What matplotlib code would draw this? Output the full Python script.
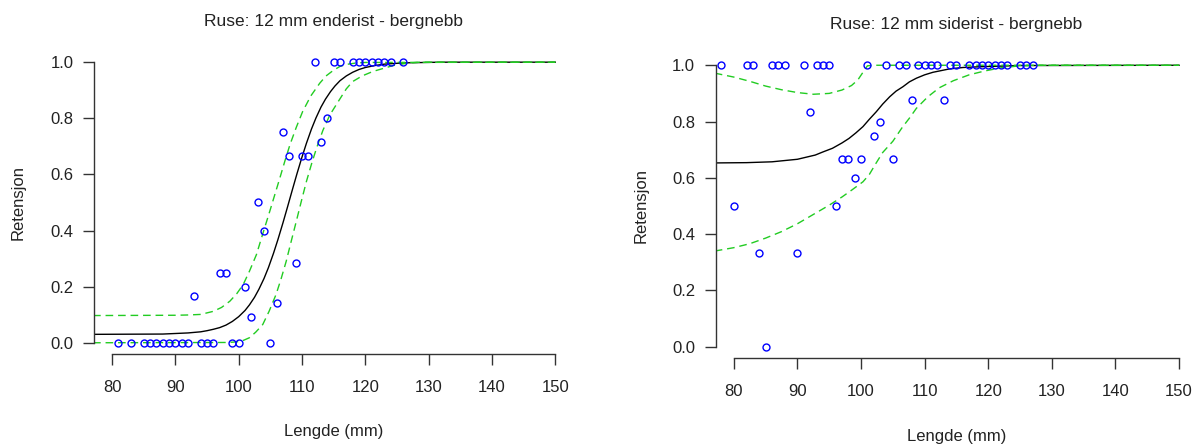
import matplotlib
matplotlib.use("Agg")
import matplotlib.pyplot as plt
from matplotlib.ticker import FormatStrFormatter

plt.rcParams["font.family"] = ["Liberation Sans", "DejaVu Sans"]

# --- Panel 1: enderist ---
end_x = [81, 83, 85, 86, 87, 88, 89, 90, 91, 92, 94, 95, 96, 99, 100, 105,
         93, 97, 98, 101, 102, 103, 104, 106, 107, 108, 109, 110, 111, 113, 114,
         112, 115, 116, 118, 119, 120, 121, 122, 123, 124, 126]
end_y = [0] * 16 + [0.167, 0.25, 0.25, 0.2, 0.091, 0.5, 0.4, 0.143, 0.75, 0.667,
                    0.286, 0.667, 0.667, 0.714, 0.8] + [1.0] * 11

end_fit_x = [77, 88, 92, 94, 95, 96, 97, 98, 99, 100, 101, 101.7, 102.5, 103.2,
             104, 104.7, 105.5, 106.2, 107, 107.7, 108.5, 109.2, 110, 110.7, 111.5,
             112.2, 113, 113.7, 114.5, 115.2, 116, 117, 118, 119, 120, 121.5, 123,
             125, 127, 132, 150]
end_fit_y = [0.030, 0.031, 0.035, 0.039, 0.043, 0.048, 0.054, 0.063, 0.076, 0.093,
             0.115, 0.135, 0.162, 0.191, 0.229, 0.268, 0.319, 0.368, 0.428, 0.483,
             0.547, 0.602, 0.662, 0.711, 0.762, 0.801, 0.840, 0.868, 0.895, 0.915,
             0.934, 0.951, 0.964, 0.974, 0.981, 0.988, 0.993, 0.996, 0.998, 1.0, 1.0]
end_hi_x = [77, 90, 92, 94, 96, 97.3, 98.6, 99.7, 100.7, 101.7, 102.8, 103.8, 104.9,
            106.5, 107.3, 108.1, 109.1, 110.1, 111.4, 112.8, 113.8, 114.9, 116, 117,
            118.5, 120, 150]
end_hi_y = [0.097, 0.098, 0.099, 0.101, 0.112, 0.126, 0.148, 0.175, 0.207, 0.255,
            0.314, 0.388, 0.468, 0.587, 0.648, 0.706, 0.768, 0.824, 0.880, 0.925,
            0.951, 0.970, 0.985, 0.992, 0.997, 0.999, 1.0]
end_lo_x = [77, 98, 99, 100, 100.8, 101.7, 102.7, 103.8, 104.8, 105.9, 106.7, 107.5,
            108.3, 109.1, 109.9, 110.7, 111.5, 112.3, 113.3, 114.4, 115.9, 117, 118,
            119.5, 121.2, 124.4, 126.5, 128.6, 150]
end_lo_y = [0.0, 0.001, 0.002, 0.004, 0.009, 0.018, 0.038, 0.065, 0.112, 0.172,
            0.228, 0.29, 0.362, 0.433, 0.505, 0.575, 0.637, 0.694, 0.757, 0.812,
            0.866, 0.905, 0.931, 0.951, 0.967, 0.988, 0.996, 1.0, 1.0]

# --- Panel 2: siderist ---
side_x = [78, 82, 83, 86, 87, 88, 91, 93, 94, 95, 101, 104, 106, 107, 109, 110,
          111, 112, 114, 115, 117, 118, 119, 120, 121, 122, 123, 125, 126, 127,
          92, 80, 84, 90, 85, 96, 97, 98, 100, 99, 102, 103, 105, 108, 113]
side_y = [1.0] * 30 + [0.833, 0.5, 0.333, 0.333, 0.0, 0.5, 0.667, 0.667, 0.667,
                       0.6, 0.75, 0.8, 0.667, 0.875, 0.875]

side_fit_x = [77, 82, 86, 90, 92.8, 94, 95.5, 97, 98.1, 99.2, 100.3, 101.3, 102.4,
              103.4, 104.5, 105.5, 106.6, 107.6, 108.7, 110, 111.3, 113.9, 116, 119,
              125, 150]
side_fit_y = [0.653, 0.654, 0.657, 0.666, 0.681, 0.692, 0.705, 0.724, 0.740, 0.760,
              0.782, 0.808, 0.835, 0.862, 0.888, 0.908, 0.924, 0.941, 0.954, 0.966,
              0.975, 0.987, 0.992, 0.995, 0.999, 1.0]
side_hi_x = [77, 80, 82.5, 85, 87.5, 90, 92.5, 95, 97, 98.5, 99.5, 100.3, 101, 102, 150]
side_hi_y = [0.972, 0.958, 0.943, 0.926, 0.913, 0.903, 0.897, 0.900, 0.912, 0.928,
             0.948, 0.975, 0.998, 1.0, 1.0]
side_lo_x = [77, 80, 82.5, 85, 87.5, 90, 92.5, 95, 97, 98.5, 100.3, 101.3, 102.3,
             103.4, 105, 106.5, 107.6, 108.7, 110.5, 112.3, 114.5, 117, 119.5, 122,
             125, 128, 150]
side_lo_y = [0.340, 0.352, 0.366, 0.386, 0.409, 0.437, 0.470, 0.503, 0.532, 0.556,
             0.586, 0.612, 0.650, 0.690, 0.730, 0.780, 0.812, 0.847, 0.888, 0.920,
             0.945, 0.966, 0.980, 0.991, 0.998, 1.0, 1.0]

titles = ["Ruse: 12 mm enderist - bergnebb", "Ruse: 12 mm siderist - bergnebb"]
xticks = [80, 90, 100, 110, 120, 130, 140, 150]
yticks = [0.0, 0.2, 0.4, 0.6, 0.8, 1.0]

green = "#22cc22"
txt = "#222222"

fig = plt.figure(figsize=(12, 4.47), dpi=100)
ax1 = fig.add_axes([0.0786, 0.2081, 0.3989, 0.6779])
ax2 = fig.add_axes([0.5967, 0.1991, 0.4007, 0.6801])

panels = [
    (ax1, end_x, end_y, end_fit_x, end_fit_y, end_hi_x, end_hi_y, end_lo_x, end_lo_y),
    (ax2, side_x, side_y, side_fit_x, side_fit_y, side_hi_x, side_hi_y, side_lo_x, side_lo_y),
]
xlab_y = [-0.231, -0.234]
ylab_x = [-0.143, -0.141]

for i, (ax, px, py, fx, fy, hx, hy, lx, ly) in enumerate(panels):
    ax.plot(px, py, "o", mfc="none", mec="blue", ms=5, mew=1.0, zorder=3)
    ax.plot(fx, fy, color="black", lw=1.0, zorder=2)
    ax.plot(hx, hy, color=green, lw=1.0, ls=(0, (5.5, 3.5)), zorder=2)
    ax.plot(lx, ly, color=green, lw=1.0, ls=(0, (5.5, 3.5)), zorder=2)

    ax.set_xlim(77.2, 152.8)
    ax.set_ylim(-0.04, 1.04)
    for s in ["top", "right"]:
        ax.spines[s].set_visible(False)
    ax.spines["left"].set_bounds(0, 1)
    ax.spines["bottom"].set_bounds(80, 150)
    for s in ["left", "bottom"]:
        ax.spines[s].set_color("#333333")
        ax.spines[s].set_linewidth(1.0)
    ax.set_xticks(xticks)
    ax.set_yticks(yticks)
    ax.yaxis.set_major_formatter(FormatStrFormatter("%.1f"))
    ax.tick_params(length=8, width=1.0, color="#333333", labelsize=12,
                   labelcolor=txt)
    ax.tick_params(axis="x", pad=10.5)
    ax.tick_params(axis="y", pad=7)

    ax.set_xlabel("Lengde (mm)", fontsize=12, color=txt)
    ax.set_ylabel("Retensjon", fontsize=12, color=txt)
    ax.xaxis.set_label_coords(0.5, xlab_y[i])
    ax.yaxis.set_label_coords(ylab_x[i], 0.5)
    ax.text(0.5, 1.097, titles[i], transform=ax.transAxes, ha="center",
            va="center", fontsize=12.5, color=txt)

fig.savefig("out.png", dpi=100)
